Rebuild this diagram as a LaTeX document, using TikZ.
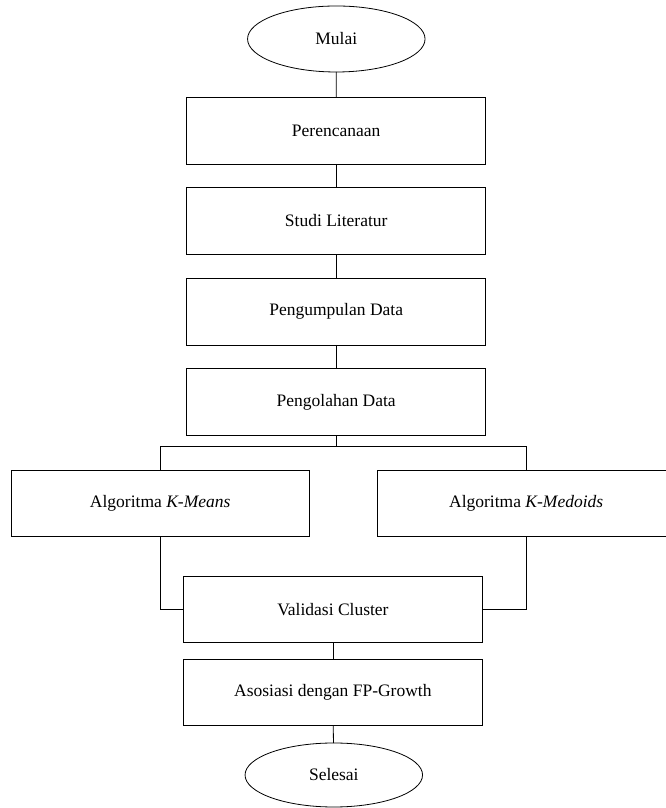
\documentclass[tikz,border=0pt]{standalone}
\usepackage{fontspec}
\setmainfont{Liberation Serif}
\usetikzlibrary{shapes.geometric}
\begin{document}
\begin{tikzpicture}[x=1pt,y=1pt,
  every node/.style={font=\fontsize{17.5}{21}\selectfont},
  procbox/.style={draw, line width=0.8pt, rectangle, minimum width=299pt, minimum height=66.5pt, inner sep=0pt, outer sep=0pt},
  termbox/.style={draw, line width=0.8pt, ellipse, minimum width=177.5pt, minimum height=66pt, inner sep=0pt, outer sep=0pt},
  conn/.style={draw, line width=0.8pt}]
\clip (0,0) rectangle (666,808);
\fill[white] (0,0) rectangle (666,808);
\node[termbox] (mulai) at (336.3,769) {Mulai};
\node[procbox] (renc) at (336.2,677.3) {Perencanaan};
\node[procbox] (studi) at (336.2,587) {Studi Literatur};
\node[procbox] (kumpul) at (336.2,496.3) {Pengumpulan Data};
\node[procbox] (olah) at (336.2,406) {Pengolahan Data};
\coordinate (br) at (336.2,361.3);
\node[procbox, minimum width=298.3pt, minimum height=66pt] (kmeans) at (160.2,304.3) {Algoritma \textit{K-Means}};
\node[procbox, minimum width=298.3pt, minimum height=66pt] (medoids) at (526.2,304.3) {Algoritma \textit{K-Medoids}};
\node[procbox, minimum width=298.8pt, minimum height=66pt] (valid) at (332.9,198.3) {Validasi Cluster};
\node[procbox, minimum width=298.8pt, minimum height=66pt] (asos) at (332.9,115.6) {Asosiasi dengan FP-Growth};
\node[termbox, minimum height=64pt] (selesai) at (333.8,33) {Selesai};
\path[conn] (mulai) -- (renc);
\path[conn] (renc) -- (studi);
\path[conn] (studi) -- (kumpul);
\path[conn] (kumpul) -- (olah);
\path[conn] (olah.south) -- (br);
\path[conn] (kmeans.north) |- (br) -| (medoids.north);
\path[conn] (kmeans.south) |- (valid.west);
\path[conn] (medoids.south) |- (valid.east);
\path[conn] (valid) -- (asos);
\path[conn] (asos) -- (selesai);
\end{tikzpicture}
\end{document}
